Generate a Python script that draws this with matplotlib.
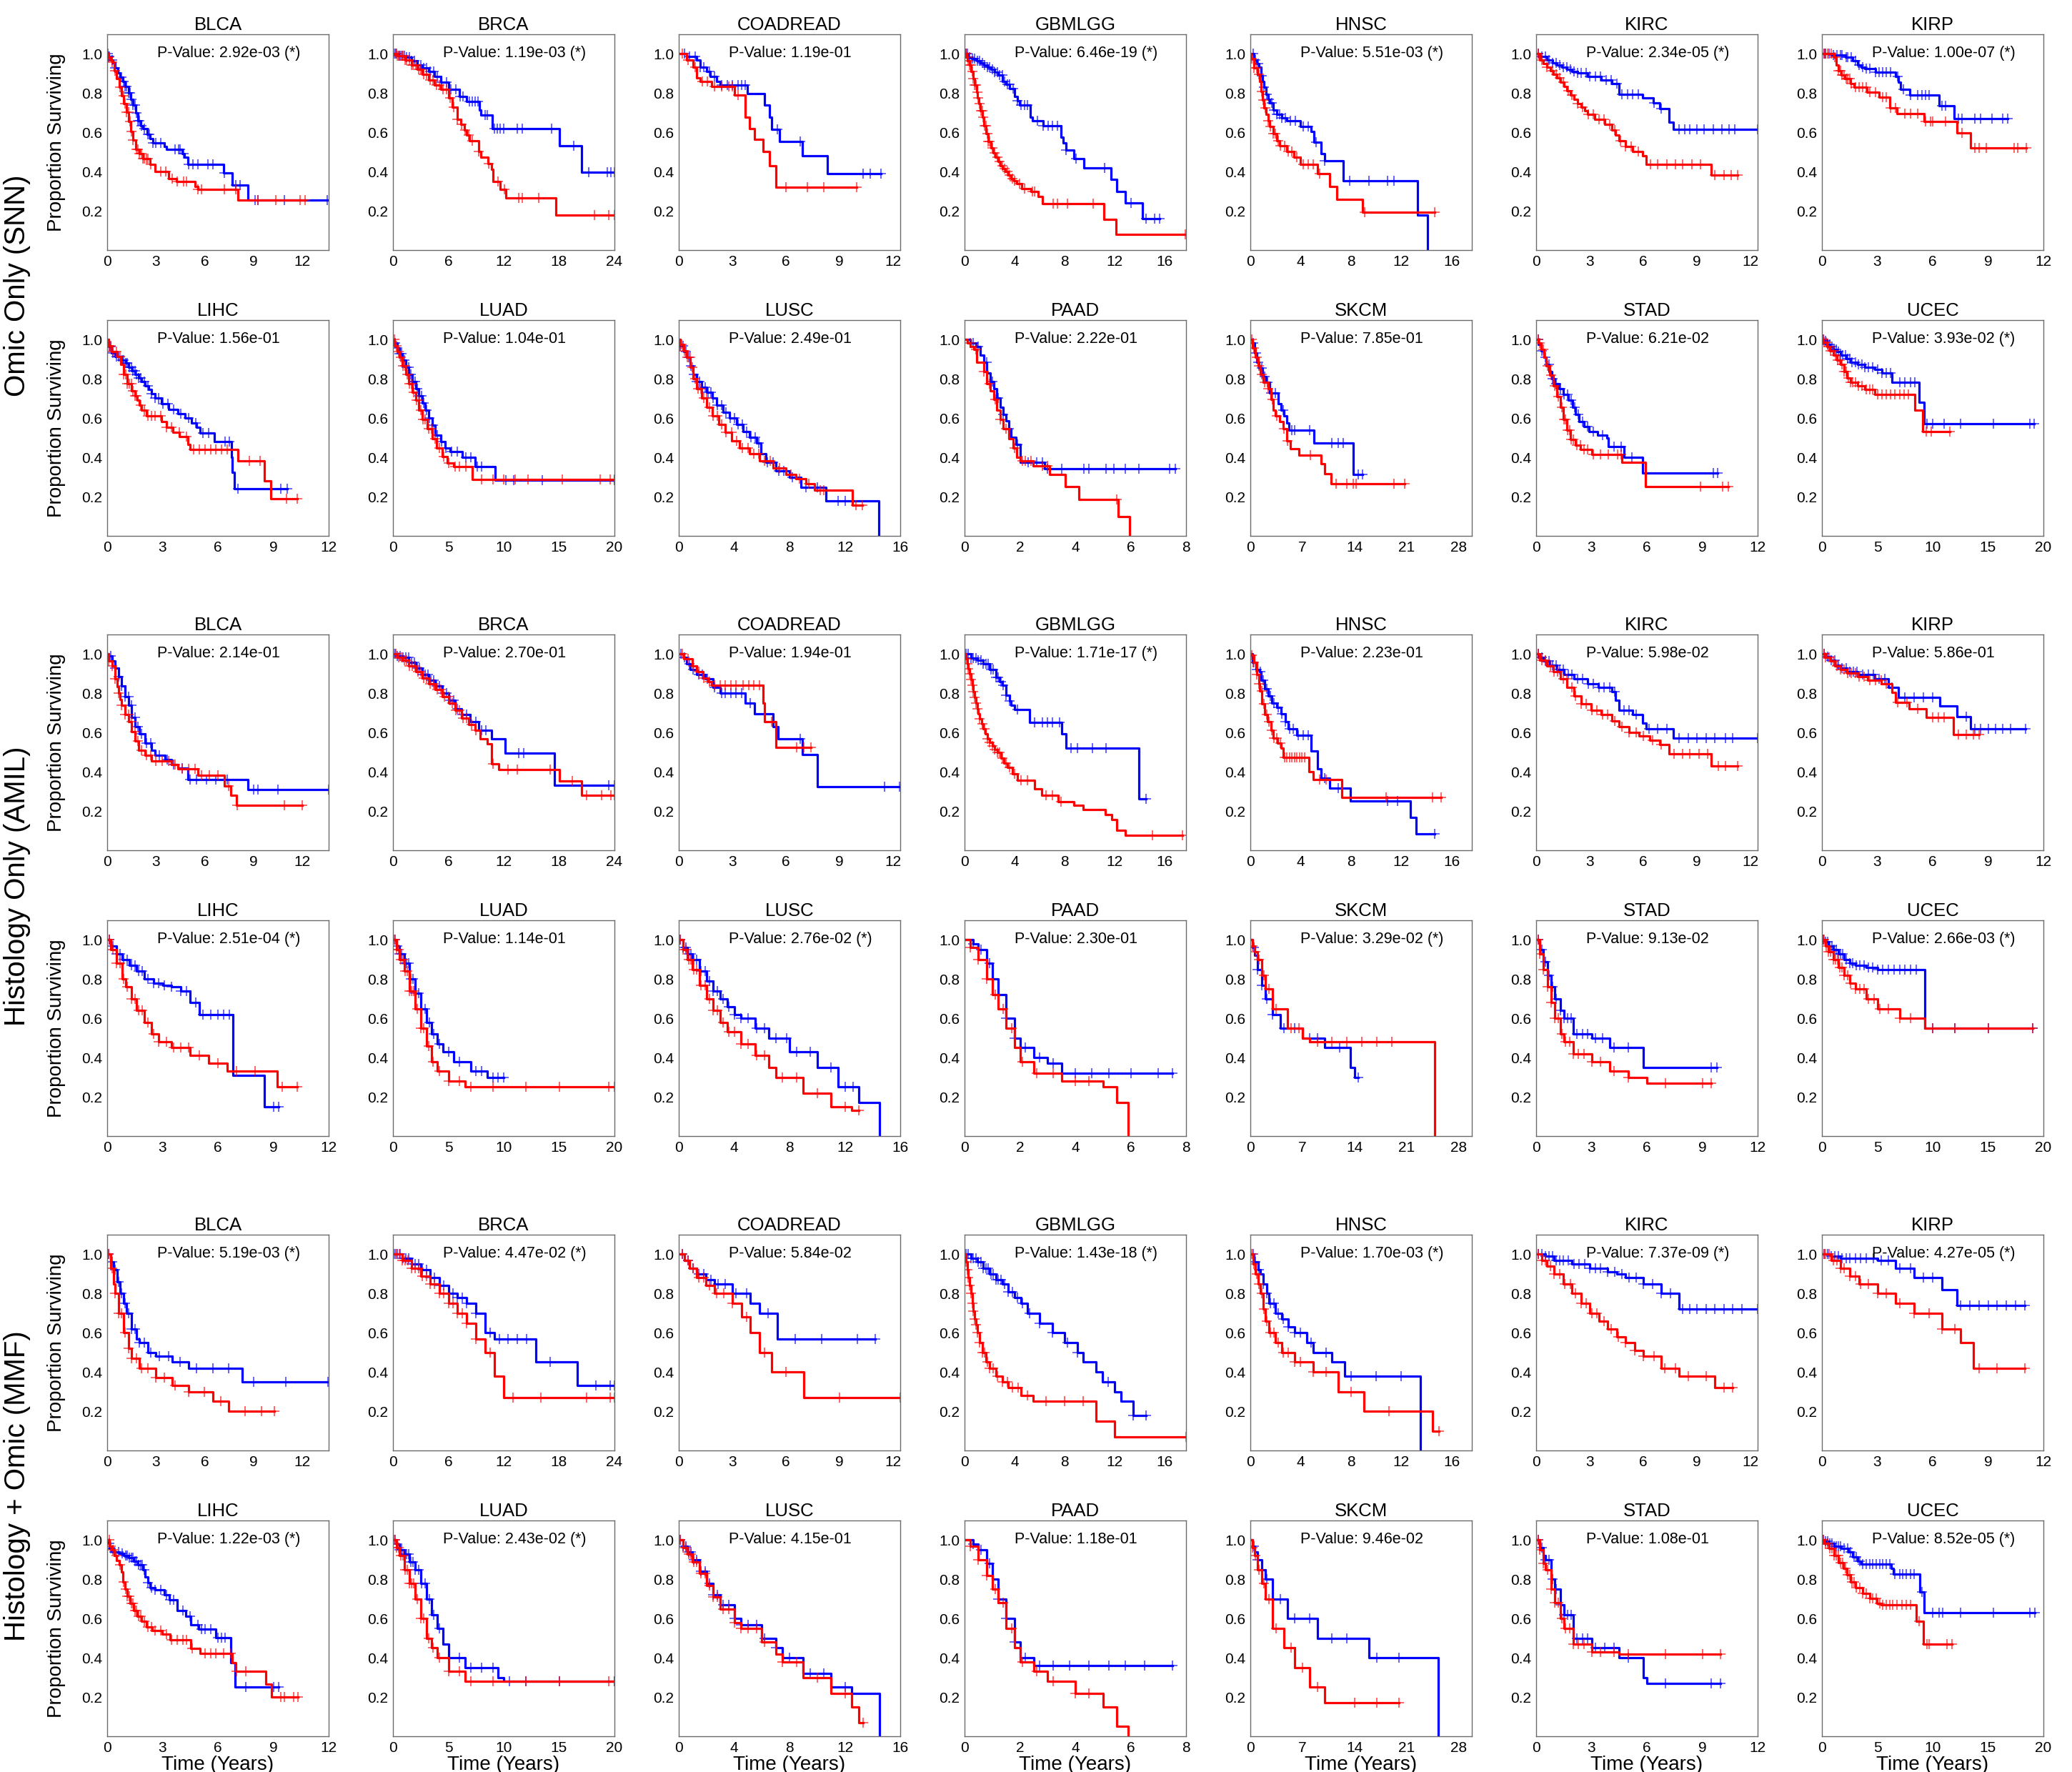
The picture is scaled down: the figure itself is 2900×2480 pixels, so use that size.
import numpy as np
import matplotlib
matplotlib.use("Agg")
import matplotlib.pyplot as plt

plt.rcParams["font.family"] = ["Liberation Sans", "DejaVu Sans"]

# panel layout: two rows of cancers per model
CANCERS = [["BLCA", "BRCA", "COADREAD", "GBMLGG", "HNSC", "KIRC", "KIRP"],
           ["LIHC", "LUAD", "LUSC", "PAAD", "SKCM", "STAD", "UCEC"]]

# x-axis extent and tick step per cancer (years)
X_MAX = {"BLCA": 13.64, "BRCA": 24.0, "COADREAD": 12.4, "GBMLGG": 17.7, "HNSC": 17.6,
         "KIRC": 12.4, "KIRP": 12.0, "LIHC": 12.0, "LUAD": 20.0, "LUSC": 16.0,
         "PAAD": 8.0, "SKCM": 29.8, "STAD": 12.0, "UCEC": 20.0}
X_STEP = {"BLCA": 3, "BRCA": 6, "COADREAD": 3, "GBMLGG": 4, "HNSC": 4, "KIRC": 3,
          "KIRP": 3, "LIHC": 3, "LUAD": 5, "LUSC": 4, "PAAD": 2, "SKCM": 7,
          "STAD": 3, "UCEC": 5}

MODELS = ["Omic Only (SNN)", "Histology Only (AMIL)", "Histology + Omic (MMF)"]

# log-rank p-values, order: BLCA..KIRP, LIHC..UCEC
P_SNN = [2.92e-03, 1.19e-03, 1.19e-01, 6.46e-19, 5.51e-03, 2.34e-05, 1.00e-07,
         1.56e-01, 1.04e-01, 2.49e-01, 2.22e-01, 7.85e-01, 6.21e-02, 3.93e-02]
P_AMIL = [2.14e-01, 2.70e-01, 1.94e-01, 1.71e-17, 2.23e-01, 5.98e-02, 5.86e-01,
          2.51e-04, 1.14e-01, 2.76e-02, 2.30e-01, 3.29e-02, 9.13e-02, 2.66e-03]
P_MMF = [5.19e-03, 4.47e-02, 5.84e-02, 1.43e-18, 1.70e-03, 7.37e-09, 4.27e-05,
         1.22e-03, 2.43e-02, 4.15e-01, 1.18e-01, 9.46e-02, 1.08e-01, 8.52e-05]

# ---- KM step knots (time, survival after drop); blue = low risk, red = high risk ----
SNN_LOW = {
    "BLCA": [(0.1, .988), (0.2, .97), (0.35, .955), (0.5, .93), (0.65, .905), (0.8, .88), (0.95, .86),
             (1.1, .835), (1.3, .80), (1.45, .77), (1.6, .74), (1.75, .70), (1.9, .66), (2.05, .635),
             (2.2, .62), (2.45, .59), (2.64, .57), (2.8, .545), (3.5, .527), (3.67, .515), (4.6, .49),
             (4.75, .473), (4.98, .436), (7.18, .394), (7.7, .333), (8.65, .255)],
    "BRCA": [(0.6, .99), (1.3, .982), (2.0, .965), (2.6, .945), (3.2, .93), (3.9, .909), (4.5, .885),
             (5.2, .855), (6.0, .818), (7.2, .782), (8.0, .758), (9.4, .715), (9.55, .687),
             (10.76, .618), (18.06, .53), (20.46, .398)],
    "COADREAD": [(0.44, .988), (1.0, .97), (1.2, .933), (1.55, .909), (1.74, .885), (2.1, .861),
                 (2.3, .84), (3.85, .796), (4.8, .739), (5.07, .679), (5.2, .616), (5.63, .553),
                 (6.93, .482), (8.3, .389)],
    "GBMLGG": [(0.3, .985), (0.57, .976), (0.95, .964), (1.25, .955), (1.52, .945), (1.8, .933),
               (2.1, .921), (2.4, .906), (2.67, .891), (3.05, .861), (3.3, .845), (3.62, .824),
               (4.0, .782), (4.2, .76), (4.38, .739), (5.24, .676), (5.43, .661), (6.29, .634),
               (7.71, .576), (7.9, .545), (8.1, .509), (8.76, .467), (9.52, .418), (11.68, .361),
               (12.19, .30), (12.86, .241), (14.19, .161)],
    "HNSC": [(0.3, .97), (0.5, .95), (0.7, .933), (0.85, .89), (0.98, .861), (1.1, .83), (1.26, .794),
             (1.4, .77), (1.53, .752), (1.8, .715), (2.08, .691), (2.5, .675), (2.9, .661), (3.99, .63),
             (4.8, .606), (5.08, .549), (5.63, .491), (5.9, .455), (7.37, .354), (13.27, .178),
             (14.09, 0.0)],
    "KIRC": [(0.19, .988), (0.58, .97), (0.9, .955), (1.15, .945), (1.45, .933), (1.73, .921),
             (2.0, .912), (2.3, .903), (2.88, .885), (3.65, .867), (4.23, .848), (4.62, .793),
             (5.96, .776), (6.54, .749), (6.92, .72), (7.42, .652), (7.69, .616)],
    "KIRP": [(0.52, .994), (1.29, .982), (1.68, .964), (1.94, .945), (2.13, .933), (2.32, .925),
             (2.9, .907), (4.0, .885), (4.13, .855), (4.26, .818), (4.77, .79), (6.36, .736),
             (7.16, .67)],
    "LIHC": [(0.07, .964), (0.25, .933), (0.43, .915), (0.79, .897), (1.0, .88), (1.15, .861),
             (1.35, .84), (1.51, .824), (1.7, .805), (1.87, .788), (2.05, .765), (2.23, .745),
             (2.4, .725), (2.59, .703), (2.95, .673), (3.31, .646), (3.84, .624), (4.2, .60),
             (4.56, .576), (4.85, .552), (5.03, .525), (5.82, .482), (6.72, .402), (6.79, .324),
             (6.9, .242)],
    "LUAD": [(0.12, .982), (0.36, .958), (0.6, .927), (0.84, .897), (1.14, .861), (1.44, .824),
             (1.74, .788), (2.04, .752), (2.34, .715), (2.63, .679), (2.93, .642), (3.23, .60),
             (3.53, .564), (3.83, .515), (4.31, .479), (4.73, .448), (5.15, .428), (6.23, .40),
             (7.43, .354), (9.22, .285)],
    "LUSC": [(0.1, .97), (0.34, .939), (0.57, .909), (0.81, .867), (1.05, .824), (1.29, .788),
             (1.63, .758), (2.01, .733), (2.4, .703), (2.73, .667), (3.21, .63), (3.69, .60),
             (4.17, .57), (4.65, .533), (5.13, .503), (5.6, .473), (5.94, .418), (6.32, .376),
             (7.04, .333), (8.0, .297), (8.81, .248), (10.63, .178), (14.47, 0.0)],
    "PAAD": [(0.21, .982), (0.4, .964), (0.57, .921), (0.69, .885), (0.81, .83), (0.93, .788),
             (1.05, .752), (1.17, .703), (1.29, .655), (1.4, .618), (1.5, .585), (1.6, .545),
             (1.68, .503), (1.85, .467), (2.0, .376), (2.9, .342)],
    "SKCM": [(0.28, .982), (0.55, .933), (0.83, .885), (1.2, .855), (1.66, .812), (2.13, .782),
             (2.59, .727), (3.79, .673), (4.16, .642), (4.53, .612), (4.9, .576), (5.18, .539),
             (8.6, .473), (13.86, .312)],
    "STAD": [(0.11, .976), (0.26, .945), (0.41, .909), (0.56, .873), (0.71, .836), (0.85, .80),
             (1.0, .776), (1.23, .752), (1.49, .721), (1.75, .691), (1.97, .655), (2.12, .618),
             (2.34, .582), (2.6, .558), (2.86, .531), (3.34, .515), (3.83, .50), (3.9, .455),
             (4.75, .402), (5.76, .32)],
    "UCEC": [(0.12, .994), (0.43, .976), (0.74, .964), (1.05, .952), (1.36, .939), (1.67, .921),
             (2.17, .903), (2.6, .885), (3.22, .873), (3.84, .861), (4.77, .848), (5.39, .83),
             (6.32, .782), (8.79, .682), (9.23, .572)],
}
SNN_LOW_CENS = {
    "BLCA": [0.05, 0.1, 0.15, 0.3, 0.5, 0.9, 1.0, 1.1, 1.2, 1.3, 1.4, 1.5, 1.6, 1.7, 1.8, 1.9, 2.0,
             2.1, 2.3, 2.5, 2.6, 2.8, 3.0, 3.3, 4.2, 4.4, 4.5, 4.7, 5.0, 5.3, 5.6, 6.2, 6.5, 7.2,
             7.9, 8.2, 9.1, 9.3, 10.9, 13.56],
    "BRCA": [0.2, 0.4, 0.6, 0.8, 1.0, 1.2, 1.5, 1.8, 2.0, 2.3, 2.6, 3.0, 3.3, 3.6, 4.0, 4.4, 4.8,
             5.3, 5.8, 6.3, 6.8, 7.3, 7.6, 8.3, 8.6, 8.9, 9.2, 10.0, 10.2, 11.0, 11.3, 11.6, 12.0,
             13.5, 14.0, 17.2, 19.6, 21.2, 23.2, 23.6, 24.0],
    "COADREAD": [0.3, 0.6, 0.9, 1.2, 1.4, 1.7, 2.0, 2.4, 2.7, 3.0, 3.3, 3.5, 3.7, 5.5, 6.8, 10.3,
                 10.7, 11.3],
    "GBMLGG": [0.1, 0.2, 0.4, 0.6, 0.8, 1.0, 1.2, 1.4, 1.6, 1.8, 2.0, 2.2, 2.4, 2.6, 2.8, 3.0, 3.2,
               3.4, 3.6, 3.9, 4.2, 4.5, 4.8, 5.0, 5.8, 6.3, 6.7, 7.0, 7.4, 8.1, 8.9, 11.2, 13.3,
               14.5, 15.2, 15.58],
    "HNSC": [0.2, 0.4, 0.6, 0.9, 1.1, 1.3, 1.5, 1.7, 1.9, 2.1, 2.3, 2.5, 2.8, 3.2, 3.6, 4.2, 4.6,
             5.2, 5.9, 7.9, 9.4, 10.9, 11.4],
    "KIRC": [0.1, 0.3, 0.5, 0.7, 0.9, 1.1, 1.3, 1.5, 1.7, 1.9, 2.1, 2.3, 2.5, 2.8, 3.0, 3.3, 3.6,
             3.9, 4.2, 4.5, 4.8, 5.1, 5.4, 5.7, 6.6, 7.0, 8.0, 8.3, 8.6, 9.0, 9.4, 9.9, 10.4, 10.8,
             11.1, 12.38],
    "KIRP": [0.1, 0.2, 0.4, 0.6, 0.8, 1.0, 1.1, 1.3, 1.4, 1.6, 1.8, 2.0, 2.2, 2.4, 2.6, 2.9, 3.1,
             3.3, 3.5, 3.7, 4.1, 4.4, 4.8, 5.2, 5.4, 5.6, 5.8, 6.5, 6.7, 7.4, 7.6, 8.3, 8.6, 9.2,
             9.8, 10.06],
    "LIHC": [0.1, 0.2, 0.3, 0.5, 0.6, 0.8, 0.9, 1.0, 1.1, 1.2, 1.3, 1.4, 1.5, 1.6, 1.7, 1.8, 2.0,
             2.2, 2.4, 2.6, 2.8, 3.0, 3.3, 3.6, 4.0, 4.4, 4.8, 5.2, 5.5, 6.4, 6.6, 7.1, 9.4, 9.77],
    "LUAD": [0.2, 0.4, 0.6, 0.8, 1.0, 1.2, 1.4, 1.6, 1.8, 2.0, 2.2, 2.4, 2.6, 2.8, 3.0, 3.3, 3.6,
             4.0, 4.4, 4.8, 5.3, 5.8, 6.6, 7.0, 7.6, 8.0, 10.2, 10.9, 13.5, 20.0],
    "LUSC": [0.1, 0.3, 0.5, 0.7, 0.9, 1.1, 1.3, 1.5, 1.7, 1.9, 2.1, 2.3, 2.5, 2.8, 3.1, 3.4, 3.7,
             4.0, 4.3, 4.6, 4.9, 5.2, 5.5, 5.8, 6.4, 6.8, 7.2, 7.6, 8.2, 9.2, 10.0, 11.5, 12.0],
    "PAAD": [0.3, 0.5, 0.8, 1.0, 1.2, 1.4, 1.6, 1.9, 2.3, 2.6, 2.8, 3.0, 3.5, 4.3, 4.5, 5.1, 5.4,
             5.8, 6.3, 7.4, 7.61],
    "SKCM": [0.4, 0.8, 1.1, 1.5, 1.9, 2.3, 2.8, 3.4, 4.4, 5.6, 6.0, 8.0, 11.0, 11.8, 12.5, 14.5,
             15.06],
    "STAD": [0.1, 0.3, 0.5, 0.7, 0.9, 1.1, 1.3, 1.5, 1.7, 1.9, 2.1, 2.3, 2.5, 2.8, 3.1, 3.6, 4.2,
             4.6, 5.2, 9.6, 9.84],
    "UCEC": [0.1, 0.3, 0.5, 0.7, 0.9, 1.1, 1.3, 1.5, 1.7, 1.9, 2.1, 2.3, 2.5, 2.7, 3.0, 3.3, 3.6,
             3.9, 4.2, 4.6, 5.0, 5.4, 5.8, 6.2, 7.0, 7.5, 8.0, 8.4, 9.5, 10.0, 11.0, 12.5, 15.5,
             18.8, 19.13],
}
SNN_HIGH = {
    "BLCA": [(0.1, .985), (0.2, .97), (0.3, .958), (0.45, .915), (0.59, .873), (0.73, .83),
             (0.88, .788), (1.02, .745), (1.17, .703), (1.32, .655), (1.47, .606), (1.6, .56),
             (1.76, .515), (2.0, .49), (2.2, .467), (2.64, .436), (2.93, .402), (3.8, .366),
             (4.25, .349), (5.4, .325), (5.57, .309), (8.06, .255)],
    "BRCA": [(0.5, .99), (1.3, .97), (2.0, .945), (2.6, .921), (3.2, .895), (3.9, .867), (4.5, .84),
             (5.2, .818), (6.0, .776), (6.45, .727), (6.97, .667), (7.35, .64), (7.74, .612),
             (8.0, .585), (8.26, .558), (9.3, .503), (9.55, .473), (10.3, .442), (10.7, .412),
             (10.84, .349), (11.6, .309), (12.26, .267), (17.68, .178)],
    "COADREAD": [(0.44, .97), (0.8, .933), (1.0, .879), (1.2, .858), (1.85, .834), (3.1, .79),
                 (3.7, .679), (3.96, .618), (4.22, .565), (4.7, .502), (5.07, .43), (5.44, .32)],
    "GBMLGG": [(0.15, .985), (0.25, .965), (0.38, .945), (0.52, .91), (0.67, .873), (0.8, .84),
               (0.95, .806), (1.05, .775), (1.14, .745), (1.28, .71), (1.43, .679), (1.57, .635),
               (1.71, .594), (1.9, .555), (2.1, .521), (2.28, .495), (2.48, .473), (2.67, .45),
               (2.86, .43), (3.05, .415), (3.24, .40), (3.47, .382), (3.71, .366), (3.95, .352),
               (4.19, .339), (4.57, .315), (5.33, .297), (5.9, .273), (6.25, .236), (11.14, .158),
               (12.13, .079)],
    "HNSC": [(0.05, .976), (0.27, .927), (0.55, .897), (0.71, .861), (0.85, .81), (0.98, .764),
             (1.1, .725), (1.26, .691), (1.4, .66), (1.53, .63), (1.8, .594), (2.08, .558),
             (2.35, .533), (2.9, .503), (3.44, .473), (3.99, .436), (5.35, .39), (6.28, .325),
             (6.88, .259), (8.9, .194)],
    "KIRC": [(0.19, .97), (0.4, .95), (0.58, .933), (0.78, .915), (0.96, .897), (1.15, .876),
             (1.35, .855), (1.55, .833), (1.73, .812), (1.93, .79), (2.12, .77), (2.3, .748),
             (2.5, .727), (2.7, .71), (2.88, .691), (3.27, .667), (3.85, .642), (4.23, .612),
             (4.45, .585), (4.62, .558), (5.0, .527), (5.38, .503), (5.96, .479), (6.15, .436),
             (9.81, .382)],
    "KIRP": [(0.65, .982), (0.77, .945), (0.9, .915), (1.03, .891), (1.23, .873), (1.55, .848),
             (1.74, .83), (2.45, .806), (3.1, .778), (3.68, .724), (4.06, .697), (5.55, .655),
             (7.33, .599), (8.04, .52)],
    "LIHC": [(0.07, .97), (0.25, .939), (0.54, .915), (0.72, .873), (0.9, .824), (1.08, .776),
             (1.33, .739), (1.5, .715), (1.62, .691), (1.75, .665), (1.87, .642), (2.12, .612),
             (2.95, .582), (3.2, .552), (3.56, .527), (3.92, .507), (4.38, .467), (4.49, .442),
             (7.08, .382), (8.52, .282), (8.88, .189)],
    "LUAD": [(0.12, .97), (0.36, .939), (0.6, .909), (0.84, .867), (1.14, .824), (1.44, .776),
             (1.74, .733), (2.04, .691), (2.34, .642), (2.63, .594), (3.11, .545), (3.53, .497),
             (3.95, .448), (4.43, .406), (4.91, .373), (5.51, .354), (7.13, .288)],
    "LUSC": [(0.1, .976), (0.34, .945), (0.57, .909), (0.81, .861), (1.05, .80), (1.29, .752),
             (1.63, .703), (2.01, .655), (2.4, .612), (2.87, .57), (3.35, .527), (3.83, .485),
             (4.41, .448), (5.13, .418), (5.84, .382), (6.8, .345), (7.76, .315), (8.48, .291),
             (9.2, .267), (9.82, .233), (12.55, .158)],
    "PAAD": [(0.1, .982), (0.21, .964), (0.33, .952), (0.45, .885), (0.69, .836), (0.81, .776),
             (0.93, .739), (1.05, .697), (1.17, .642), (1.29, .594), (1.4, .545), (1.6, .497),
             (1.76, .448), (1.88, .40), (2.0, .382), (2.49, .358), (3.07, .315), (3.63, .251),
             (4.12, .187), (5.54, .097), (5.95, 0.0)],
    "SKCM": [(0.28, .958), (0.65, .909), (1.02, .867), (1.39, .824), (1.76, .782), (2.4, .752),
             (2.77, .697), (3.05, .642), (3.33, .612), (3.97, .582), (4.44, .545), (4.9, .485),
             (5.36, .446), (6.56, .41), (9.52, .367), (9.98, .318), (10.9, .267)],
    "STAD": [(0.11, .982), (0.26, .952), (0.41, .909), (0.56, .867), (0.74, .818), (0.93, .764),
             (1.11, .709), (1.3, .655), (1.49, .594), (1.67, .539), (1.86, .491), (2.12, .461),
             (2.41, .442), (3.01, .415), (4.64, .376), (5.94, .251)],
    "UCEC": [(0.12, .988), (0.43, .964), (0.74, .945), (1.05, .921), (1.36, .897), (1.67, .873),
             (1.98, .836), (2.29, .806), (2.6, .782), (3.22, .764), (3.84, .745), (4.77, .721),
             (8.36, .64), (9.1, .531)],
}
SNN_HIGH_CENS = {
    "BLCA": [0.1, 0.3, 0.5, 0.8, 1.0, 1.1, 1.2, 1.3, 1.4, 1.5, 1.6, 1.8, 1.9, 2.0, 2.1, 2.2, 2.3,
             2.4, 2.5, 2.7, 3.3, 3.6, 4.0, 4.3, 4.7, 4.9, 5.6, 5.8, 7.2, 7.9, 9.3, 10.4, 11.9, 12.17],
    "BRCA": [0.1, 0.3, 0.5, 0.7, 0.9, 1.1, 1.3, 1.5, 1.8, 2.0, 2.2, 2.5, 2.8, 3.0, 3.3, 3.6, 4.0,
             4.3, 4.7, 5.0, 5.4, 5.8, 6.2, 6.6, 7.0, 7.4, 7.8, 8.2, 8.6, 9.3, 10.4, 11.4, 12.1, 13.6,
             14.0, 15.8, 21.8, 23.4, 24.0],
    "COADREAD": [0.2, 0.5, 0.9, 1.3, 1.6, 2.0, 2.4, 2.8, 3.0, 3.3, 6.0, 7.2, 8.1, 9.96],
    "GBMLGG": [0.1, 0.2, 0.3, 0.4, 0.5, 0.6, 0.7, 0.8, 0.9, 1.0, 1.1, 1.2, 1.3, 1.4, 1.5, 1.6, 1.7,
               1.8, 1.9, 2.0, 2.2, 2.4, 2.6, 2.8, 3.0, 3.2, 3.4, 3.6, 3.8, 4.0, 4.4, 4.8, 5.4, 5.6,
               7.1, 7.4, 8.2, 10.3, 17.66],
    "HNSC": [0.1, 0.3, 0.5, 0.7, 0.9, 1.0, 1.2, 1.4, 1.6, 1.8, 2.0, 2.2, 2.4, 2.7, 3.0, 3.3, 3.7,
             4.2, 4.6, 5.0, 5.5, 9.1, 14.64],
    "KIRC": [0.1, 0.3, 0.6, 0.9, 1.1, 1.3, 1.5, 1.8, 2.0, 2.3, 2.6, 2.9, 3.2, 3.5, 3.8, 4.1, 4.4,
             4.7, 5.0, 5.3, 5.7, 6.4, 6.8, 7.3, 7.8, 8.2, 8.7, 9.2, 10.0, 10.5, 10.9, 11.27],
    "KIRP": [0.1, 0.2, 0.3, 0.5, 0.7, 0.9, 1.0, 1.1, 1.2, 1.3, 1.4, 1.5, 1.6, 1.8, 2.0, 2.2, 2.4,
             2.6, 2.9, 3.3, 3.5, 3.7, 4.0, 4.5, 4.8, 5.2, 5.6, 5.9, 6.0, 6.7, 7.6, 8.3, 8.5, 8.9,
             10.4, 10.6, 11.07],
    "LIHC": [0.1, 0.2, 0.3, 0.5, 0.7, 0.9, 1.0, 1.1, 1.2, 1.3, 1.4, 1.5, 1.6, 1.8, 2.0, 2.2, 2.4,
             2.6, 2.9, 3.2, 3.5, 3.9, 4.3, 4.7, 5.0, 5.3, 5.6, 5.9, 6.2, 6.5, 7.7, 8.3, 9.7, 10.31],
    "LUAD": [0.1, 0.3, 0.5, 0.7, 0.9, 1.1, 1.3, 1.5, 1.7, 1.9, 2.1, 2.3, 2.5, 2.7, 2.9, 3.2, 3.5,
             3.8, 4.2, 4.6, 5.0, 5.6, 6.0, 6.6, 8.0, 9.0, 10.0, 11.0, 12.2, 15.3, 18.7, 19.6, 20.0],
    "LUSC": [0.1, 0.2, 0.4, 0.6, 0.8, 1.0, 1.2, 1.4, 1.6, 1.8, 2.0, 2.2, 2.5, 2.8, 3.1, 3.4, 3.8,
             4.2, 4.6, 5.0, 5.4, 5.8, 6.2, 6.6, 7.3, 8.1, 8.7, 9.4, 10.2, 10.5, 12.8, 13.27],
    "PAAD": [0.2, 0.4, 0.7, 0.9, 1.1, 1.3, 1.5, 1.8, 2.1, 2.2, 2.4, 2.8, 3.0, 5.5],
    "SKCM": [0.2, 0.5, 0.9, 1.2, 1.5, 1.9, 2.4, 3.0, 3.6, 4.5, 5.0, 8.1, 11.5, 13.0, 13.8, 14.2,
             19.3, 20.8],
    "STAD": [0.1, 0.2, 0.4, 0.6, 0.8, 1.0, 1.2, 1.4, 1.5, 1.6, 1.7, 1.8, 1.9, 2.0, 2.2, 2.4, 2.6,
             2.8, 3.1, 3.5, 3.9, 4.4, 4.6, 8.9, 10.1, 10.4],
    "UCEC": [0.1, 0.2, 0.4, 0.6, 0.8, 1.0, 1.2, 1.4, 1.6, 1.8, 2.0, 2.2, 2.4, 2.6, 2.8, 3.0, 3.3,
             3.6, 4.0, 4.3, 4.6, 5.0, 5.4, 5.8, 6.2, 6.6, 7.0, 7.4, 7.8, 9.4, 9.9, 11.58],
}

AMIL_LOW = {
    "BLCA": [(0.08, .99), (0.29, .964), (0.49, .927), (0.69, .885), (0.9, .836), (1.1, .782),
             (1.31, .739), (1.51, .679), (1.71, .63), (2.0, .594), (2.33, .545), (2.73, .509),
             (2.94, .485), (3.55, .461), (3.96, .436), (4.37, .418), (4.98, .361), (8.65, .309)],
    "BRCA": [(0.5, .99), (1.0, .982), (1.72, .958), (2.44, .927), (3.16, .897), (3.88, .867),
             (4.6, .836), (5.32, .80), (6.03, .764), (6.75, .721), (7.47, .691), (8.33, .655),
             (9.27, .612), (10.7, .567), (12.14, .496), (17.53, .331)],
    "COADREAD": [(0.26, .982), (0.44, .952), (0.63, .921), (1.0, .897), (1.48, .873), (1.93, .83),
                 (2.3, .80), (3.7, .749), (4.22, .696), (5.26, .63), (5.56, .567), (6.93, .487),
                 (7.74, .324)],
    "GBMLGG": [(0.5, .98), (1.0, .97), (1.5, .95), (2.0, .92), (2.5, .88), (2.8, .86), (3.0, .84),
               (3.3, .79), (3.6, .76), (3.7, .739), (4.0, .718), (5.2, .651), (7.75, .594),
               (8.13, .521), (13.95, .261)],
    "HNSC": [(0.16, .958), (0.44, .921), (0.71, .909), (0.87, .867), (1.15, .824), (1.42, .788),
             (1.69, .752), (2.08, .727), (2.46, .697), (2.79, .655), (3.0, .618), (3.71, .588),
             (4.81, .507), (5.35, .417), (5.63, .367), (6.28, .318), (7.92, .251), (12.73, .167),
             (13.16, .085)],
    "KIRC": [(0.12, .982), (0.38, .964), (0.77, .945), (1.15, .921), (1.54, .897), (2.12, .873),
             (2.88, .848), (3.46, .83), (4.23, .808), (4.42, .764), (4.62, .715), (5.38, .691),
             (5.96, .648), (6.15, .618), (7.69, .572)],
    "KIRP": [(0.19, .988), (0.45, .97), (0.71, .945), (1.0, .927), (1.37, .909), (1.93, .895),
             (2.86, .873), (3.6, .83), (4.16, .778), (6.39, .736), (7.32, .681), (8.06, .618)],
    "LIHC": [(0.2, .97), (0.5, .93), (0.8, .90), (1.2, .87), (1.6, .84), (2.0, .80), (2.5, .78),
             (3.0, .77), (3.5, .76), (4.0, .74), (4.5, .68), (5.0, .62), (6.8, .31), (8.5, .15)],
    "LUAD": [(0.3, .97), (0.6, .93), (1.0, .88), (1.5, .80), (2.0, .73), (2.5, .65), (3.0, .58),
             (3.5, .52), (4.0, .47), (4.5, .43), (5.5, .38), (7.0, .33), (8.5, .30)],
    "LUSC": [(0.3, .96), (0.6, .93), (1.0, .90), (1.5, .84), (2.0, .79), (2.5, .74), (3.0, .70),
             (3.5, .66), (4.0, .62), (4.5, .60), (5.5, .55), (6.5, .50), (8.0, .43), (10.0, .35),
             (11.5, .25), (13.0, .17), (14.5, 0.0)],
    "PAAD": [(0.3, .98), (0.5, .95), (0.8, .88), (1.0, .80), (1.2, .72), (1.5, .60), (1.8, .50),
             (2.0, .45), (2.5, .40), (3.0, .37), (3.5, .32)],
    "SKCM": [(0.3, .96), (0.6, .92), (1.0, .85), (1.5, .77), (2.0, .70), (3.0, .62), (4.0, .55),
             (7.0, .50), (10.0, .45), (13.5, .35), (14.0, .30)],
    "STAD": [(0.2, .95), (0.4, .89), (0.6, .82), (0.8, .76), (1.0, .70), (1.3, .64), (1.5, .60),
             (2.0, .52), (3.0, .50), (4.0, .45), (5.8, .35)],
    "UCEC": [(0.3, .99), (0.6, .97), (1.0, .95), (1.5, .93), (2.0, .90), (2.5, .88), (3.0, .87),
             (4.0, .86), (5.0, .85), (9.3, .55)],
}
AMIL_LOW_CENS = {
    "BLCA": [0.2, 0.5, 0.7, 0.9, 1.1, 1.3, 1.5, 1.7, 1.9, 2.1, 2.4, 2.7, 3.2, 3.7, 4.1, 4.6, 5.1,
             5.5, 6.1, 6.7, 7.4, 9.0, 9.3, 10.5, 13.63],
    "BRCA": [0.2, 0.5, 0.8, 1.1, 1.4, 1.7, 2.0, 2.3, 2.6, 2.9, 3.2, 3.5, 3.8, 4.1, 4.4, 4.7, 5.0,
             5.4, 5.8, 6.2, 6.6, 7.0, 7.5, 8.0, 9.0, 9.6, 10.1, 13.6, 14.2, 23.4, 24.0],
    "COADREAD": [0.1, 0.3, 0.6, 0.8, 1.1, 1.3, 1.6, 2.0, 2.4, 2.6, 2.9, 3.2, 3.5, 4.0, 4.8, 6.8,
                 11.5, 12.37],
    "GBMLGG": [0.1, 0.3, 0.5, 0.7, 0.9, 1.1, 1.3, 1.5, 1.7, 1.9, 2.1, 2.3, 2.5, 2.7, 2.9, 3.1, 3.3,
               3.6, 4.2, 5.6, 6.2, 6.6, 7.0, 7.6, 8.5, 9.0, 10.2, 11.3, 14.48],
    "HNSC": [0.2, 0.5, 0.8, 1.0, 1.3, 1.6, 1.9, 2.2, 2.5, 2.8, 3.1, 3.4, 3.8, 4.2, 4.6, 5.9, 7.0,
             10.9, 11.7, 14.64],
    "KIRC": [0.1, 0.3, 0.5, 0.7, 0.9, 1.1, 1.3, 1.5, 1.8, 2.0, 2.3, 2.6, 2.9, 3.2, 3.5, 3.8, 4.1,
             4.4, 4.9, 5.2, 5.6, 6.3, 6.8, 7.3, 8.0, 8.5, 9.0, 9.5, 10.0, 10.6, 11.0, 12.38],
    "KIRP": [0.1, 0.3, 0.5, 0.7, 0.9, 1.1, 1.3, 1.5, 1.7, 1.9, 2.2, 2.5, 2.8, 3.1, 3.4, 3.8, 4.5,
             5.0, 5.5, 6.0, 7.8, 8.3, 8.6, 9.0, 9.4, 9.8, 10.2, 11.03],
    "LIHC": [0.1, 0.3, 0.5, 0.7, 0.9, 1.1, 1.3, 1.5, 1.7, 1.9, 2.2, 2.5, 2.8, 3.1, 3.5, 4.0, 4.3,
             4.8, 5.2, 5.6, 6.0, 6.3, 6.6, 9.0, 9.3],
    "LUAD": [0.2, 0.4, 0.6, 0.8, 1.0, 1.2, 1.4, 1.6, 1.8, 2.0, 2.3, 2.6, 2.9, 3.3, 3.7, 4.2, 5.0,
             6.0, 7.5, 8.0, 9.0, 9.5, 10.0],
    "LUSC": [0.1, 0.3, 0.5, 0.7, 0.9, 1.1, 1.3, 1.6, 1.9, 2.2, 2.5, 2.8, 3.2, 3.6, 4.0, 4.5, 5.0,
             5.6, 6.2, 7.0, 7.8, 8.5, 9.5, 11.0, 12.0, 12.6],
    "PAAD": [0.3, 0.6, 0.9, 1.2, 1.5, 1.8, 2.2, 2.7, 3.2, 4.0, 4.6, 5.2, 6.0, 7.0, 7.5],
    "SKCM": [0.5, 1.0, 1.5, 2.2, 3.0, 4.5, 6.0, 8.0, 9.0, 12.0, 14.5],
    "STAD": [0.1, 0.3, 0.5, 0.7, 0.9, 1.1, 1.3, 1.5, 1.7, 1.9, 2.2, 2.5, 2.8, 3.2, 3.6, 4.2, 5.0,
             9.5, 9.8],
    "UCEC": [0.1, 0.3, 0.5, 0.7, 0.9, 1.1, 1.3, 1.5, 1.7, 1.9, 2.2, 2.5, 2.8, 3.1, 3.4, 3.8, 4.2,
             4.6, 5.0, 5.5, 6.0, 6.5, 7.0, 7.5, 8.0, 8.5, 10.0, 12.0, 15.0, 19.0],
}
AMIL_HIGH = {
    "BLCA": [(0.08, .964), (0.29, .939), (0.49, .873), (0.6, .835), (0.69, .80), (0.8, .77),
             (0.9, .739), (1.1, .691), (1.31, .655), (1.51, .606), (1.71, .558), (1.92, .509),
             (2.33, .485), (2.73, .455), (3.96, .436), (4.37, .415), (5.6, .382), (7.22, .327),
             (7.63, .279), (7.96, .228)],
    "BRCA": [(0.5, .985), (1.0, .97), (1.72, .939), (2.44, .909), (3.16, .879), (3.88, .848),
             (4.6, .818), (5.32, .782), (6.03, .752), (6.75, .715), (7.47, .673), (8.19, .642),
             (8.91, .612), (9.41, .567), (10.2, .542), (10.7, .44), (11.42, .412), (18.03, .352),
             (20.4, .279)],
    "COADREAD": [(0.26, .976), (0.74, .939), (1.0, .909), (1.37, .879), (1.63, .861), (1.85, .842),
                 (4.7, .752), (4.81, .655), (5.44, .524)],
    "GBMLGG": [(0.1, .975), (0.2, .95), (0.3, .925), (0.4, .90), (0.5, .87), (0.6, .84), (0.7, .81),
               (0.8, .78), (0.9, .75), (1.0, .72), (1.1, .695), (1.2, .67), (1.35, .645), (1.5, .62),
               (1.65, .595), (1.8, .57), (2.0, .55), (2.2, .53), (2.4, .515), (2.6, .50), (2.9, .47),
               (3.15, .445), (3.45, .424), (3.8, .39), (4.25, .358), (5.6, .315), (6.14, .281),
               (7.48, .248), (8.72, .23), (9.47, .208), (11.24, .182), (11.78, .155), (12.15, .103),
               (12.85, .076)],
    "HNSC": [(0.05, .994), (0.27, .958), (0.49, .897), (0.66, .848), (0.76, .812), (0.93, .745),
             (1.15, .691), (1.37, .655), (1.64, .612), (1.8, .572), (2.18, .545), (2.46, .521),
             (2.62, .473), (4.64, .40), (4.97, .361), (7.26, .269)],
    "KIRC": [(0.19, .97), (0.58, .939), (0.96, .909), (1.35, .873), (1.73, .83), (2.12, .788),
             (2.5, .745), (3.08, .715), (3.65, .691), (4.23, .661), (4.62, .63), (5.19, .60),
             (5.77, .582), (6.35, .56), (6.92, .539), (7.42, .491), (9.81, .428)],
    "KIRP": [(0.19, .982), (0.45, .964), (0.71, .939), (1.0, .921), (1.37, .903), (1.93, .885),
             (2.49, .867), (3.23, .848), (3.79, .806), (3.97, .754), (4.72, .721), (5.65, .676),
             (7.13, .59)],
    "LIHC": [(0.2, .95), (0.5, .88), (0.8, .80), (1.0, .76), (1.3, .70), (1.6, .64), (2.0, .58),
             (2.4, .52), (2.8, .48), (3.5, .45), (4.5, .41), (5.5, .37), (6.5, .33), (9.2, .25)],
    "LUAD": [(0.3, .95), (0.6, .90), (1.0, .84), (1.5, .74), (2.0, .65), (2.5, .55), (3.0, .46),
             (3.5, .38), (4.0, .33), (5.0, .28), (6.5, .25)],
    "LUSC": [(0.3, .95), (0.6, .90), (1.0, .85), (1.5, .77), (2.0, .70), (2.5, .64), (3.0, .58),
             (3.5, .53), (4.5, .47), (5.5, .41), (6.5, .35), (7.0, .30), (9.0, .22), (11.0, .15),
             (12.5, .13)],
    "PAAD": [(0.2, .96), (0.5, .90), (0.8, .80), (1.0, .72), (1.2, .65), (1.5, .55), (1.8, .45),
             (2.0, .38), (2.5, .32), (3.5, .28), (5.0, .25), (5.5, .17), (5.9, 0.0)],
    "SKCM": [(0.3, .97), (0.6, .94), (1.0, .90), (1.5, .82), (2.0, .75), (3.0, .65), (5.0, .55),
             (7.0, .50), (8.0, .48), (24.8, 0.0)],
    "STAD": [(0.2, .93), (0.4, .85), (0.6, .76), (0.8, .68), (1.0, .60), (1.3, .52), (1.5, .48),
             (2.0, .42), (3.0, .38), (4.0, .33), (5.0, .30), (6.0, .27)],
    "UCEC": [(0.3, .97), (0.6, .94), (1.0, .90), (1.5, .86), (2.0, .82), (2.5, .78), (3.0, .75),
             (4.0, .70), (5.0, .65), (7.0, .60), (9.3, .55)],
}
AMIL_HIGH_CENS = {
    "BLCA": [0.1, 0.3, 0.5, 0.7, 0.9, 1.1, 1.3, 1.5, 1.7, 1.9, 2.1, 2.4, 2.7, 3.0, 3.4, 3.8, 4.2,
             4.6, 5.0, 5.4, 5.8, 6.3, 6.8, 7.5, 8.0, 10.9, 12.0],
    "BRCA": [0.1, 0.3, 0.6, 0.9, 1.2, 1.5, 1.8, 2.1, 2.4, 2.7, 3.0, 3.3, 3.6, 4.0, 4.4, 4.8, 5.2,
             5.6, 6.0, 6.4, 6.8, 7.2, 7.6, 8.0, 8.5, 9.0, 10.8, 12.5, 13.5, 17.0, 19.4, 21.0, 22.6,
             23.6, 24.0],
    "COADREAD": [0.2, 0.5, 0.8, 1.1, 1.4, 1.7, 2.0, 2.3, 2.6, 2.9, 3.2, 3.6, 3.9, 4.2, 4.5, 5.2,
                 6.6, 7.0, 7.41],
    "GBMLGG": [0.1, 0.2, 0.3, 0.4, 0.5, 0.6, 0.7, 0.8, 0.9, 1.0, 1.2, 1.4, 1.6, 1.8, 2.0, 2.2, 2.4,
               2.6, 2.8, 3.0, 3.3, 3.6, 4.0, 4.5, 5.0, 6.5, 7.0, 7.7, 15.0, 17.4],
    "HNSC": [0.1, 0.3, 0.5, 0.7, 0.9, 1.1, 1.3, 1.5, 1.7, 1.9, 2.1, 2.4, 2.7, 2.9, 3.1, 3.3, 3.5,
             3.7, 3.9, 4.1, 4.3, 5.5, 6.0, 10.8, 14.5, 15.18],
    "KIRC": [0.1, 0.3, 0.5, 0.8, 1.0, 1.2, 1.5, 1.7, 2.0, 2.2, 2.5, 2.8, 3.1, 3.4, 3.7, 4.0, 4.4,
             4.8, 5.2, 5.6, 6.0, 6.5, 7.0, 7.7, 8.2, 8.6, 9.1, 9.6, 10.2, 10.6, 11.27],
    "KIRP": [0.1, 0.2, 0.4, 0.6, 0.8, 1.0, 1.2, 1.4, 1.6, 1.8, 2.0, 2.3, 2.6, 2.9, 3.2, 3.5, 4.1,
             4.6, 5.2, 6.0, 6.3, 6.6, 7.4, 7.8, 8.2, 8.51],
    "LIHC": [0.1, 0.3, 0.5, 0.7, 0.9, 1.1, 1.3, 1.5, 1.7, 1.9, 2.2, 2.5, 2.8, 3.2, 3.6, 4.0, 4.4,
             5.0, 6.0, 7.0, 8.0, 9.5, 10.3],
    "LUAD": [0.1, 0.3, 0.5, 0.7, 0.9, 1.1, 1.3, 1.5, 1.7, 1.9, 2.2, 2.5, 2.8, 3.2, 3.6, 4.2, 5.0,
             6.0, 7.0, 9.0, 12.0, 15.0, 19.5, 20.0],
    "LUSC": [0.1, 0.3, 0.5, 0.7, 0.9, 1.1, 1.3, 1.6, 1.9, 2.2, 2.5, 2.8, 3.2, 3.6, 4.0, 4.5, 5.0,
             5.6, 6.2, 7.5, 8.5, 10.0, 12.0, 13.0],
    "PAAD": [0.2, 0.5, 0.8, 1.1, 1.4, 1.7, 2.1, 2.6, 3.2, 4.0, 4.5],
    "SKCM": [0.3, 0.7, 1.2, 1.8, 2.5, 3.5, 5.5, 6.5, 9.0, 11.0, 13.0, 15.0, 17.0, 19.0],
    "STAD": [0.1, 0.2, 0.4, 0.6, 0.8, 1.0, 1.2, 1.4, 1.6, 1.8, 2.0, 2.3, 2.6, 3.0, 3.5, 4.2, 5.0,
             7.0, 9.0, 9.5],
    "UCEC": [0.1, 0.2, 0.4, 0.6, 0.8, 1.0, 1.2, 1.4, 1.6, 1.8, 2.0, 2.3, 2.6, 3.0, 3.4, 3.8, 4.2,
             4.7, 5.2, 6.0, 7.0, 8.0, 10.0, 12.0, 15.0, 19.0],
}

MMF_LOW = {
    "BLCA": [(0.2, .96), (0.4, .92), (0.6, .86), (0.8, .80), (1.0, .75), (1.2, .70), (1.5, .62),
             (1.8, .57), (2.0, .55), (2.5, .50), (3.0, .48), (4.0, .45), (5.0, .42), (8.3, .35)],
    "BRCA": [(1.0, .98), (2.0, .95), (3.0, .92), (4.0, .88), (5.0, .84), (6.0, .80), (7.0, .78),
             (8.0, .75), (9.0, .70), (10.0, .60), (11.0, .57), (15.5, .45), (20.0, .33)],
    "COADREAD": [(0.3, .97), (0.6, .93), (1.0, .90), (1.5, .87), (2.0, .85), (3.0, .80), (4.0, .75),
                 (4.5, .70), (5.5, .57)],
    "GBMLGG": [(0.5, .98), (1.0, .96), (1.5, .93), (2.0, .90), (2.5, .87), (3.0, .85), (3.5, .81),
               (4.0, .78), (4.5, .75), (5.0, .70), (6.0, .65), (7.0, .60), (8.0, .55), (9.0, .50),
               (9.5, .45), (10.5, .40), (11.0, .35), (12.0, .30), (12.5, .25), (13.5, .18)],
    "HNSC": [(0.3, .96), (0.6, .92), (0.8, .90), (1.0, .85), (1.3, .80), (1.5, .75), (2.0, .70),
             (2.5, .67), (3.0, .63), (3.5, .60), (4.5, .55), (5.0, .50), (6.5, .45), (7.5, .38),
             (13.5, 0.0)],
    "KIRC": [(0.5, .99), (1.0, .97), (2.0, .95), (3.0, .93), (4.0, .91), (4.5, .90), (5.0, .88),
             (6.0, .85), (7.0, .80), (8.0, .72)],
    "KIRP": [(0.5, .99), (1.0, .98), (3.0, .97), (4.0, .93), (5.0, .88), (6.5, .82), (7.3, .74)],
    "LIHC": [(0.06, .982), (0.13, .958), (0.26, .939), (0.65, .933), (0.9, .921), (1.16, .909),
             (1.42, .891), (1.68, .873), (1.94, .848), (2.06, .812), (2.19, .782), (2.32, .758),
             (2.58, .745), (3.1, .721), (3.35, .697), (3.81, .642), (4.26, .612), (4.52, .57),
             (4.97, .545), (5.87, .503), (6.71, .376), (6.94, .251)],
    "LUAD": [(0.3, .98), (0.6, .95), (1.0, .93), (1.5, .89), (2.0, .85), (2.5, .78), (3.0, .70),
             (3.5, .62), (4.0, .55), (4.5, .47), (5.0, .40), (6.5, .35), (9.5, .30), (10.0, .28)],
    "LUSC": [(0.3, .97), (0.6, .94), (1.0, .90), (1.5, .84), (2.0, .78), (2.5, .72), (3.0, .67),
             (4.0, .60), (4.5, .57), (6.0, .50), (7.0, .45), (7.5, .40), (9.0, .32), (11.0, .25),
             (12.5, .22), (14.5, 0.0)],
    "PAAD": [(0.3, .98), (0.5, .95), (0.8, .88), (1.0, .80), (1.2, .70), (1.5, .60), (1.8, .48),
             (2.0, .40), (2.5, .36)],
    "SKCM": [(0.3, .97), (0.6, .94), (1.0, .90), (1.5, .85), (2.0, .80), (3.0, .70), (5.0, .60),
             (9.0, .50), (16.0, .40), (25.3, 0.0)],
    "STAD": [(0.2, .96), (0.4, .92), (0.5, .90), (0.8, .80), (1.0, .75), (1.3, .67), (1.5, .62),
             (2.0, .50), (3.0, .45), (4.5, .40), (5.8, .30), (6.0, .27)],
    "UCEC": [(0.22, .994), (0.65, .982), (1.08, .97), (1.72, .958), (2.37, .939), (2.8, .915),
             (3.23, .891), (3.55, .879), (6.24, .855), (6.45, .827), (8.86, .736), (9.25, .63)],
}
MMF_LOW_CENS = {
    "BLCA": [0.1, 0.3, 0.5, 0.7, 0.9, 1.1, 1.3, 1.5, 1.7, 2.0, 2.3, 2.7, 3.2, 3.8, 4.5, 5.5, 6.5,
             7.5, 9.0, 11.0, 13.6],
    "BRCA": [0.2, 0.5, 0.8, 1.1, 1.4, 1.7, 2.0, 2.4, 2.8, 3.2, 3.6, 4.0, 4.5, 5.0, 5.5, 6.0, 6.5,
             7.0, 7.5, 8.0, 9.0, 10.5, 11.5, 12.5, 13.5, 14.5, 17.0, 22.0, 23.5, 24.0],
    "COADREAD": [0.2, 0.5, 0.8, 1.1, 1.4, 1.8, 2.2, 2.6, 3.2, 3.8, 5.0, 6.5, 8.0, 10.0, 11.0],
    "GBMLGG": [0.1, 0.3, 0.5, 0.7, 0.9, 1.1, 1.3, 1.5, 1.7, 1.9, 2.1, 2.3, 2.5, 2.7, 2.9, 3.2, 3.5,
               3.8, 4.2, 4.6, 5.2, 6.0, 7.0, 8.2, 9.0, 11.5, 13.5, 14.5],
    "HNSC": [0.2, 0.4, 0.7, 1.0, 1.3, 1.6, 1.9, 2.2, 2.6, 3.0, 3.5, 4.0, 4.8, 6.0, 8.0, 10.0, 12.0],
    "KIRC": [0.1, 0.3, 0.5, 0.7, 0.9, 1.1, 1.3, 1.5, 1.8, 2.1, 2.4, 2.7, 3.0, 3.3, 3.6, 4.0, 4.4,
             4.8, 5.2, 5.6, 6.0, 6.5, 7.0, 7.5, 8.2, 8.6, 9.0, 9.5, 10.0, 10.5, 11.0, 11.5, 12.4],
    "KIRP": [0.1, 0.3, 0.5, 0.7, 0.9, 1.1, 1.3, 1.5, 1.8, 2.1, 2.4, 2.8, 3.2, 3.6, 4.2, 4.8, 5.5,
             6.0, 7.5, 8.0, 8.5, 9.0, 9.5, 10.0, 10.5, 11.0],
    "LIHC": [0.1, 0.2, 0.4, 0.6, 0.8, 1.0, 1.1, 1.2, 1.3, 1.4, 1.5, 1.6, 1.7, 1.8, 1.9, 2.0, 2.2,
             2.4, 2.6, 2.9, 3.2, 3.4, 3.6, 4.1, 4.5, 4.9, 5.1, 5.3, 5.6, 6.0, 6.2, 6.4, 7.5, 9.0,
             9.29],
    "LUAD": [0.2, 0.4, 0.6, 0.8, 1.0, 1.2, 1.4, 1.6, 1.8, 2.0, 2.3, 2.6, 2.9, 3.3, 3.7, 4.2, 5.0,
             6.0, 7.0, 8.0, 9.0, 10.5, 12.0, 15.0, 20.0],
    "LUSC": [0.1, 0.3, 0.5, 0.7, 0.9, 1.1, 1.3, 1.6, 1.9, 2.2, 2.5, 2.8, 3.2, 3.6, 4.0, 4.5, 5.0,
             5.6, 6.2, 7.0, 8.0, 9.5, 10.5, 12.0],
    "PAAD": [0.3, 0.6, 0.9, 1.2, 1.5, 1.8, 2.2, 2.7, 3.2, 3.8, 4.5, 5.2, 5.8, 6.5, 7.5],
    "SKCM": [0.5, 1.0, 1.5, 2.2, 3.0, 4.0, 6.0, 8.0, 11.0, 13.0, 17.0, 20.0],
    "STAD": [0.1, 0.3, 0.5, 0.7, 0.9, 1.1, 1.3, 1.5, 1.7, 1.9, 2.2, 2.5, 2.8, 3.2, 3.7, 4.2, 5.0,
             7.0, 9.5, 10.0],
    "UCEC": [0.1, 0.3, 0.5, 0.7, 0.9, 1.1, 1.3, 1.5, 1.7, 2.0, 2.3, 2.6, 2.9, 3.1, 3.4, 3.7, 4.0,
             4.3, 4.6, 4.9, 5.2, 5.5, 5.8, 6.1, 6.6, 7.0, 7.3, 7.6, 8.0, 8.3, 9.0, 10.0, 10.6,
             10.9, 12.5, 15.5, 18.8, 19.25],
}
MMF_HIGH = {
    "BLCA": [(0.2, .93), (0.4, .85), (0.5, .80), (0.7, .70), (1.0, .60), (1.3, .52), (1.5, .47),
             (2.0, .42), (3.0, .37), (4.0, .33), (5.0, .30), (6.5, .25), (7.5, .20)],
    "BRCA": [(1.0, .97), (2.0, .93), (3.0, .89), (4.0, .85), (5.0, .80), (6.0, .75), (7.0, .70),
             (8.0, .65), (9.0, .57), (10.0, .50), (11.0, .38), (12.0, .27)],
    "COADREAD": [(0.3, .97), (0.6, .93), (1.0, .88), (1.5, .84), (2.0, .80), (3.0, .75), (3.5, .68),
                 (4.0, .60), (4.5, .50), (5.2, .40), (7.0, .27)],
    "GBMLGG": [(0.1, .96), (0.2, .92), (0.3, .88), (0.4, .84), (0.5, .80), (0.6, .75), (0.7, .71),
               (0.8, .67), (0.9, .64), (1.0, .60), (1.2, .55), (1.4, .50), (1.7, .45), (2.0, .42),
               (2.5, .38), (3.0, .35), (3.5, .32), (4.5, .28), (5.5, .25), (10.5, .15), (12.0, .07)],
    "HNSC": [(0.2, .95), (0.4, .90), (0.6, .85), (0.8, .80), (1.0, .72), (1.2, .66), (1.5, .60),
             (2.0, .55), (2.5, .50), (3.5, .45), (5.0, .40), (7.0, .30), (9.0, .20), (14.5, .10)],
    "KIRC": [(0.3, .97), (0.6, .94), (1.0, .90), (1.5, .85), (2.0, .80), (2.5, .75), (3.0, .70),
             (3.5, .66), (4.0, .62), (4.5, .58), (5.0, .55), (5.5, .51), (6.0, .48), (7.0, .42),
             (8.0, .38), (10.0, .32)],
    "KIRP": [(0.5, .97), (1.0, .93), (1.5, .89), (2.0, .85), (3.0, .80), (4.0, .75), (5.0, .70),
             (6.5, .62), (7.5, .55), (8.2, .42)],
    "LIHC": [(0.13, .97), (0.26, .952), (0.39, .921), (0.52, .897), (0.65, .873), (0.77, .836),
             (0.84, .788), (0.97, .752), (1.1, .715), (1.23, .679), (1.42, .642), (1.61, .612),
             (1.87, .588), (2.13, .558), (2.45, .539), (2.97, .521), (3.42, .491), (4.52, .448),
             (5.03, .424), (6.77, .376), (6.97, .333), (8.58, .267), (8.9, .20)],
    "LUAD": [(0.3, .96), (0.6, .92), (1.0, .85), (1.5, .78), (2.0, .70), (2.5, .60), (3.0, .50),
             (3.5, .45), (4.0, .40), (5.0, .33), (6.5, .28)],
    "LUSC": [(0.3, .96), (0.6, .93), (1.0, .89), (1.5, .83), (2.0, .77), (2.5, .71), (3.0, .65),
             (4.0, .58), (4.5, .55), (6.0, .48), (7.0, .42), (7.5, .38), (9.0, .30), (11.0, .22),
             (12.5, .15), (13.0, .07)],
    "PAAD": [(0.2, .97), (0.5, .90), (0.8, .82), (1.0, .75), (1.2, .68), (1.5, .55), (1.8, .45),
             (2.0, .38), (2.5, .33), (3.0, .28), (4.0, .22), (5.0, .15), (5.5, .05), (5.9, 0.0)],
    "SKCM": [(0.3, .96), (0.6, .92), (1.0, .85), (1.5, .78), (2.0, .70), (3.0, .55), (4.5, .45),
             (6.0, .35), (8.0, .25), (10.0, .17)],
    "STAD": [(0.2, .95), (0.4, .88), (0.5, .85), (0.8, .75), (1.0, .68), (1.3, .60), (1.5, .55),
             (2.0, .47), (3.0, .43), (4.5, .42)],
    "UCEC": [(0.22, .982), (0.65, .958), (1.08, .921), (1.51, .885), (1.94, .855), (2.26, .824),
             (2.58, .788), (3.01, .758), (3.66, .727), (4.3, .703), (4.95, .679), (5.38, .67),
             (8.49, .585), (9.14, .469)],
}
MMF_HIGH_CENS = {
    "BLCA": [0.1, 0.3, 0.5, 0.7, 0.9, 1.1, 1.3, 1.5, 1.8, 2.1, 2.5, 3.0, 3.5, 4.2, 5.0, 6.0, 7.0,
             8.5, 9.5, 10.3],
    "BRCA": [0.1, 0.4, 0.7, 1.0, 1.3, 1.6, 2.0, 2.4, 2.8, 3.2, 3.6, 4.0, 4.5, 5.0, 5.5, 6.0, 6.5,
             7.0, 7.5, 8.0, 9.0, 10.5, 13.0, 16.0, 21.0, 23.5, 24.0],
    "COADREAD": [0.2, 0.5, 0.8, 1.1, 1.4, 1.7, 2.1, 2.5, 3.0, 3.8, 4.8, 6.0, 9.0, 12.4],
    "GBMLGG": [0.1, 0.2, 0.3, 0.4, 0.5, 0.6, 0.7, 0.8, 0.9, 1.0, 1.2, 1.4, 1.6, 1.8, 2.0, 2.3, 2.6,
               3.0, 3.4, 3.8, 4.3, 5.0, 6.5, 8.0, 9.5, 17.7],
    "HNSC": [0.1, 0.3, 0.5, 0.7, 0.9, 1.1, 1.3, 1.6, 1.9, 2.2, 2.6, 3.0, 3.5, 4.0, 5.0, 6.0, 8.0,
             11.0, 15.0],
    "KIRC": [0.1, 0.3, 0.5, 0.8, 1.0, 1.3, 1.6, 1.9, 2.2, 2.5, 2.8, 3.1, 3.4, 3.8, 4.2, 4.6, 5.0,
             5.5, 6.0, 6.6, 7.2, 7.8, 8.5, 9.5, 10.5, 11.0],
    "KIRP": [0.1, 0.2, 0.4, 0.6, 0.8, 1.0, 1.2, 1.5, 1.8, 2.1, 2.5, 3.0, 3.5, 4.2, 5.0, 5.8, 6.5,
             7.2, 8.5, 9.5, 11.0],
    "LIHC": [0.1, 0.2, 0.3, 0.5, 0.7, 0.9, 1.0, 1.1, 1.2, 1.3, 1.4, 1.5, 1.6, 1.7, 1.8, 2.0, 2.2,
             2.4, 2.6, 2.9, 3.2, 3.5, 3.8, 4.1, 4.3, 4.6, 5.3, 5.6, 5.9, 6.3, 6.7, 7.0, 7.5, 9.4,
             9.6, 10.1, 10.32],
    "LUAD": [0.1, 0.3, 0.5, 0.7, 0.9, 1.1, 1.3, 1.5, 1.7, 1.9, 2.2, 2.5, 2.8, 3.2, 3.6, 4.2, 5.0,
             6.0, 7.0, 9.0, 12.0, 15.0, 19.5, 20.0],
    "LUSC": [0.1, 0.3, 0.5, 0.7, 0.9, 1.1, 1.3, 1.6, 1.9, 2.2, 2.5, 2.8, 3.2, 3.6, 4.0, 4.5, 5.0,
             5.6, 6.2, 7.5, 8.5, 10.0, 12.0, 13.3],
    "PAAD": [0.2, 0.5, 0.8, 1.1, 1.4, 1.7, 2.1, 2.6, 3.2, 4.0, 4.5],
    "SKCM": [0.3, 0.7, 1.2, 1.8, 2.5, 3.5, 5.5, 7.0, 9.0, 14.0, 17.0, 20.0],
    "STAD": [0.1, 0.2, 0.4, 0.6, 0.8, 1.0, 1.2, 1.4, 1.6, 1.8, 2.0, 2.3, 2.6, 3.0, 3.5, 4.2, 5.0,
             7.0, 9.0, 10.0],
    "UCEC": [0.1, 0.3, 0.5, 0.7, 0.9, 1.1, 1.3, 1.5, 1.7, 1.9, 2.1, 2.3, 2.5, 2.7, 2.9, 3.1, 3.4,
             3.7, 4.0, 4.3, 4.6, 4.9, 5.2, 5.5, 5.8, 6.1, 6.4, 6.8, 7.2, 7.6, 8.0, 8.8, 9.5, 9.7,
             11.3, 11.72],
}

GROUPS = [(P_SNN, SNN_LOW, SNN_LOW_CENS, SNN_HIGH, SNN_HIGH_CENS),
          (P_AMIL, AMIL_LOW, AMIL_LOW_CENS, AMIL_HIGH, AMIL_HIGH_CENS),
          (P_MMF, MMF_LOW, MMF_LOW_CENS, MMF_HIGH, MMF_HIGH_CENS)]

# ---- layout in pixels of the 2900 x 2480 canvas ----
W, H = 2900, 2480
ROW_TOP = [48, 448, 888, 1288, 1728, 2128]
AX_W, AX_H = 310, 302
GROUP_CENTER = [400, 1240, 2080]


def draw_km(ax, knots, cens, color):
    t = [0.0] + [k[0] for k in knots]
    s = [1.0] + [k[1] for k in knots]
    end = max([t[-1]] + list(cens))
    ax.step(t + [end], s + [s[-1]], where="post", color=color, lw=2.3)
    idx = np.searchsorted(t, cens, side="right") - 1
    ax.plot(cens, np.array(s)[idx], ls="none", marker="+", ms=10, mew=1.2,
            color=color, alpha=0.7)


fig = plt.figure(figsize=(W / 100, H / 100), dpi=100)

for g, (pvals, low, low_c, high, high_c) in enumerate(GROUPS):
    for r in range(2):
        row = 2 * g + r
        for c in range(7):
            cancer = CANCERS[r][c]
            left = 150 + 400 * c
            ax = fig.add_axes([left / W, 1 - (ROW_TOP[row] + AX_H) / H, AX_W / W, AX_H / H])
            draw_km(ax, low[cancer], low_c[cancer], "blue")
            draw_km(ax, high[cancer], high_c[cancer], "red")

            ax.set_xlim(0, X_MAX[cancer])
            ax.set_ylim(0, 1.1)
            ax.set_xticks(np.arange(0, X_MAX[cancer] + 0.01, X_STEP[cancer]))
            ax.set_yticks([0.2, 0.4, 0.6, 0.8, 1.0])
            ax.tick_params(length=0, labelsize=15, pad=5)
            for sp in ax.spines.values():
                sp.set_color("#6b6b6b")
                sp.set_linewidth(1.0)
            ax.set_title(cancer, fontsize=18.5, pad=4)

            p = pvals[r * 7 + c]
            label = f"P-Value: {p:.2e}" + (" (*)" if p < 0.05 else "")
            ax.text(0.226, 0.894, label, transform=ax.transAxes, fontsize=15.5,
                    ha="left", va="baseline")

            if c == 0:
                fig.text(79 / W, 1 - (ROW_TOP[row] + AX_H / 2) / H, "Proportion Surviving",
                         rotation=90, ha="center", va="center", fontsize=20)
            if row == 5:
                fig.text((left + AX_W / 2) / W, 1 - 2477 / H, "Time (Years)",
                         ha="center", va="baseline", fontsize=20)

for g, name in enumerate(MODELS):
    fig.text(24 / W, 1 - GROUP_CENTER[g] / H, name, rotation=90, ha="center",
             va="center", fontsize=29)

fig.savefig("out.png", dpi=100)
